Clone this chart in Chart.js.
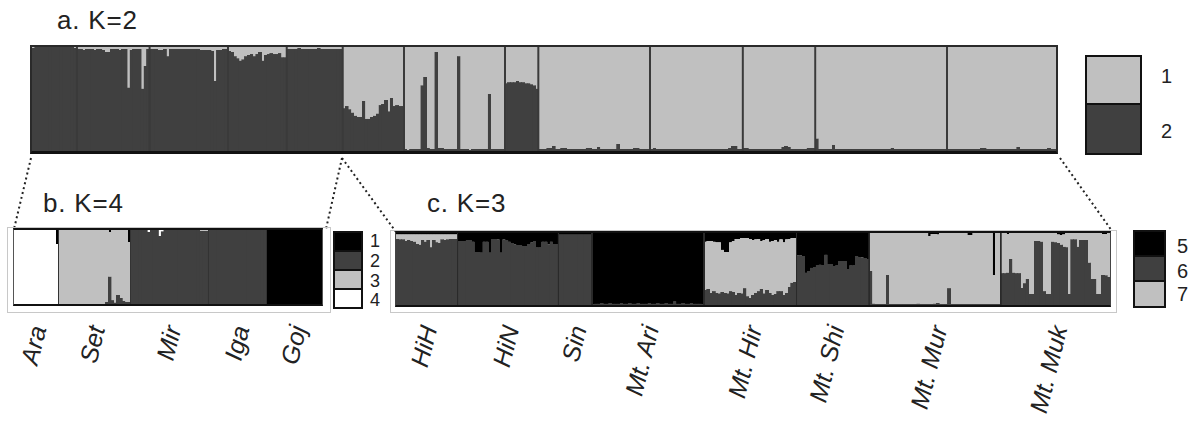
<!DOCTYPE html>
<html>
<head>
<meta charset="utf-8">
<script src="https://cdn.jsdelivr.net/npm/chart.js@4.4.1/dist/chart.umd.min.js"></script>
<style>
body{margin:0;width:1192px;height:423px;background:#fff;position:relative;overflow:hidden;font-family:"Liberation Sans",Arial,sans-serif;color:#222}
.abs{position:absolute}
.title{position:absolute;font-size:26px;line-height:26px;letter-spacing:0.8px;white-space:nowrap}
.num{position:absolute;line-height:1;white-space:nowrap}
canvas{position:absolute}
.frame{position:absolute;border:1px solid #c8c8c8}
.key{position:absolute}
.key div{border:2px solid #111;margin-top:-2px}
.key div:first-child{margin-top:0}
.xl{position:absolute;width:0;height:0}
.xl span{position:absolute;right:0;top:-13px;font-size:25px;line-height:26px;font-style:italic;white-space:nowrap;transform-origin:100% 50%;transform:rotate(-76deg)}
</style>
</head>
<body>

<svg class="abs" style="left:0;top:0" width="1192" height="423">
  <g stroke="#222" stroke-width="2" stroke-dasharray="2,3" fill="none">
    <line x1="31" y1="158" x2="14" y2="229"/>
    <line x1="342" y1="158" x2="326" y2="229"/>
    <line x1="342" y1="158" x2="396" y2="232"/>
    <line x1="1060" y1="158" x2="1112" y2="231"/>
  </g>
</svg>

<div class="title" style="left:57px;top:7px">a. K=2</div>
<div class="title" style="left:43px;top:190px">b. K=4</div>
<div class="title" style="left:427px;top:190px">c. K=3</div>

<canvas id="chartA" width="1028" height="109" style="left:30px;top:45px;border:2px solid #2a2a2a;border-bottom:3px solid #111"></canvas>

<div class="frame" style="left:7px;top:227px;width:322px;height:84px"></div>
<canvas id="chartB" width="310" height="78" style="left:13px;top:228px;border-top:2px solid #111;border-bottom:2px solid #111;border-left:1px solid #555;border-right:1px solid #555"></canvas>

<div class="frame" style="left:390px;top:230px;width:725px;height:81px"></div>
<canvas id="chartC" width="716" height="76" style="left:395px;top:231px;border-top:2px solid #111;border-bottom:2px solid #111;border-left:1px solid #444;border-right:1px solid #444"></canvas>

<!-- keys -->
<div class="key" style="left:1085px;top:55px;width:57px">
  <div style="height:46px;background:#c0c0c0"></div>
  <div style="height:48px;background:#404040"></div>
</div>
<div class="num" style="left:1161px;top:66px;font-size:20px">1</div>
<div class="num" style="left:1161px;top:121px;font-size:20px">2</div>

<div class="key" style="left:333px;top:231px;width:30px">
  <div style="height:17px;background:#000"></div>
  <div style="height:17px;background:#404040"></div>
  <div style="height:17px;background:#c0c0c0"></div>
  <div style="height:17px;background:#fff"></div>
</div>
<div class="num" style="left:370px;top:232px;font-size:18px">1</div>
<div class="num" style="left:370px;top:252px;font-size:18px">2</div>
<div class="num" style="left:370px;top:272px;font-size:18px">3</div>
<div class="num" style="left:370px;top:291px;font-size:18px">4</div>

<div class="key" style="left:1133px;top:230px;width:33px">
  <div style="height:23px;background:#000"></div>
  <div style="height:23px;background:#404040"></div>
  <div style="height:24px;background:#c0c0c0"></div>
</div>
<div class="num" style="left:1177px;top:236px;font-size:20px">5</div>
<div class="num" style="left:1177px;top:261px;font-size:20px">6</div>
<div class="num" style="left:1177px;top:284px;font-size:20px">7</div>

<script>
// populations and sample sizes (individuals per population)
const popsB = ['Ara', 'Set', 'Mir', 'Iga', 'Goj'];
const sizesB = [16, 26, 28, 21, 20];
const popsC = ['HiH', 'HiN', 'Sin', 'Mt. Ari', 'Mt. Hir', 'Mt. Shi', 'Mt. Mur', 'Mt. Muk'];
const sizesC = [22, 36, 12, 40, 33, 26, 47, 39];

// a. K=2, membership (%) in cluster 2 (dark)
const k2c2 = [
  99,100,100,100,100,100,100,100,100,100,100,100,100,100,100,99, // Ara
  98,98,97,98,98,98,97,98,98,97,95,95,98,98,98,97,98,98,61,97,98,98,98,60,82,98, // Set
  98,98,98,97,97,98,91,98,98,98,98,98,98,98,98,98,98,98,97,97,97,97,96,67,97,97,98,98, // Mir
  96,95,91,89,87,88,91,92,93,91,93,95,87,92,93,94,93,93,94,90,90, // Iga
  98,98,98,98,99,98,98,98,98,98,98,99,98,98,98,98,98,98,98,98, // Goj
  41,43,40,37,34,33,33,48,31,31,33,34,36,44,45,49,38,51,43,44,43,43, // HiH
  2,1,2,2,2,2,63,71,3,2,2,95,3,3,2,2,2,2,2,91,2,2,2,1,2,2,2,2,2,2,55,2,2,2,2,2, // HiN
  65,66,66,66,67,66,66,65,65,64,63,60, // Sin
  2,2,2,3,3,5,2,2,3,3,2,2,2,2,2,2,2,3,3,2,2,4,2,2,2,2,2,2,7,2,2,2,2,2,3,3,2,2,2,2, // Mt. Ari
  2,3,2,2,2,2,2,2,2,2,2,2,2,2,2,2,2,2,2,2,2,2,2,2,2,2,2,2,3,5,5,2,2, // Mt. Hir
  3,3,2,2,2,2,2,2,2,2,2,2,2,2,4,5,4,2,2,2,2,2,2,3,3,3, // Mt. Shi
  12,2,2,2,2,2,6,2,2,2,2,2,2,2,2,2,2,2,2,2,2,2,2,2,2,2,2,3,2,2,2,2,2,2,2,2,2,2,2,2,2,2,2,2,2,2,2, // Mt. Mur
  2,2,2,2,2,2,2,2,2,2,2,2,3,3,2,2,2,2,2,2,2,2,2,2,2,4,2,2,2,2,2,2,2,2,2,2,3,2,2 // Mt. Muk
];
// K=2 memberships sum to 100, cluster 1 is the rest
const k2c1 = k2c2.map(v => 100 - v);

// b. K=4 memberships (%)
const k4c1 = [
  0,0,0,0,0,0,0,0,0,0,0,0,0,0,0,19,
  0,0,0,0,0,0,0,0,0,0,0,0,0,0,0,0,0,0,3,0,0,0,0,0,0,16,
  0,0,0,0,0,0,0,0,0,0,0,0,0,0,0,0,0,0,0,0,0,0,0,0,0,0,0,0,
  0,0,0,0,0,0,0,0,0,0,0,0,0,0,0,0,0,0,0,0,0,
  100,100,100,100,100,100,100,100,100,100,100,100,100,100,100,100,100,100,100,100
];
const k4c2 = [
  0,0,0,0,0,0,0,0,0,0,0,0,0,0,0,0,
  0,0,0,0,0,0,0,0,0,0,0,0,0,0,0,0,0,3,37,5,2,12,8,4,3,3,
  100,100,100,100,100,100,97,100,100,100,92,98,100,100,100,100,100,100,100,100,100,100,100,100,100,99,99,99,
  100,100,100,100,100,100,100,100,100,100,100,100,100,100,100,100,100,100,100,100,100,
  0,0,0,0,0,0,0,0,0,0,0,0,0,0,0,0,0,0,0,0
];
const k4c3 = [
  0,0,0,0,0,0,0,0,0,0,0,0,0,0,0,0,
  100,100,100,100,100,100,100,100,100,100,100,100,100,100,100,100,100,97,60,95,98,88,92,96,97,81,
  0,0,0,0,0,0,0,0,0,0,0,0,0,0,0,0,0,0,0,0,0,0,0,0,0,1,1,1,
  0,0,0,0,0,0,0,0,0,0,0,0,0,0,0,0,0,0,0,0,0,
  0,0,0,0,0,0,0,0,0,0,0,0,0,0,0,0,0,0,0,0
];
const k4c4 = [
  100,100,100,100,100,100,100,100,100,100,100,100,100,100,100,81,
  0,0,0,0,0,0,0,0,0,0,0,0,0,0,0,0,0,0,0,0,0,0,0,0,0,0,
  0,0,0,0,0,0,3,0,0,0,8,2,0,0,0,0,0,0,0,0,0,0,0,0,0,0,0,0,
  0,0,0,0,0,0,0,0,0,0,0,0,0,0,0,0,0,0,0,0,0,
  0,0,0,0,0,0,0,0,0,0,0,0,0,0,0,0,0,0,0,0
];

// c. K=3 memberships (%)
const k3c5 = [
  2,2,2,2,2,2,2,2,2,2,2,2,2,2,2,2,2,2,2,2,2,2,
  11,11,11,10,10,12,26,26,27,12,12,27,8,8,9,27,9,10,12,14,16,17,17,18,18,15,13,11,20,20,12,12,16,12,15,15,
  2,2,2,2,2,2,2,2,2,2,2,2,
  99,98,98,97,98,98,97,98,98,98,97,98,98,97,98,98,97,98,98,98,97,98,98,97,98,98,97,98,98,95,98,98,97,98,98,97,98,98,98,99,
  12,11,11,12,13,13,23,26,26,13,11,8,8,7,7,7,8,10,9,8,11,10,8,12,11,10,12,9,13,9,8,7,7,
  31,31,32,55,53,48,47,45,44,45,30,43,43,46,45,39,39,39,50,45,45,32,33,34,35,36,
  0,0,0,0,0,0,0,0,0,0,0,0,0,0,0,0,0,0,0,0,0,4,1,1,2,0,0,0,0,0,0,0,0,0,0,3,3,0,0,0,0,0,0,0,58,0,0,
  0,0,1,0,0,0,0,0,0,0,0,0,0,0,0,0,0,0,0,0,2,3,2,0,0,0,0,0,0,0,0,0,0,0,0,0,1,1,0
];
const k3c6 = [
  92,91,91,89,90,89,88,85,84,90,88,90,80,90,87,86,91,90,91,92,92,92,
  89,89,89,90,90,88,74,74,73,88,88,73,92,92,91,73,91,90,88,86,84,83,83,82,82,85,87,89,80,80,88,88,84,88,85,85,
  98,98,98,98,98,98,98,98,98,98,98,98,
  1,2,2,3,2,2,3,2,2,2,3,2,2,3,2,2,3,2,2,2,3,2,2,3,2,2,3,2,2,5,2,2,3,2,2,3,2,2,2,1,
  21,22,17,19,17,16,18,17,16,19,18,14,17,16,23,12,10,14,17,19,22,16,21,17,14,15,19,19,14,17,25,31,32,
  69,69,68,45,47,52,53,55,56,55,70,57,57,54,55,61,61,61,50,55,55,68,67,66,65,64,
  47,2,1,1,1,1,42,1,1,1,1,1,1,1,1,1,1,2,1,1,1,1,1,2,3,1,1,1,23,1,1,1,1,1,1,1,1,1,1,1,1,1,1,1,1,1,1,
  44,44,45,64,45,44,44,24,30,36,15,15,89,89,88,19,15,15,88,87,86,84,81,80,15,91,91,81,90,90,90,59,36,36,15,15,42,41,39
];
const k3c7 = [
  6,7,7,9,8,9,10,13,14,8,10,8,18,8,11,12,7,8,7,6,6,6,
  0,0,0,0,0,0,0,0,0,0,0,0,0,0,0,0,0,0,0,0,0,0,0,0,0,0,0,0,0,0,0,0,0,0,0,0,
  0,0,0,0,0,0,0,0,0,0,0,0,
  0,0,0,0,0,0,0,0,0,0,0,0,0,0,0,0,0,0,0,0,0,0,0,0,0,0,0,0,0,0,0,0,0,0,0,0,0,0,0,0,
  67,67,72,69,70,71,59,57,58,68,71,78,75,77,70,81,82,76,74,73,67,74,71,71,75,75,69,72,73,74,67,62,61,
  0,0,0,0,0,0,0,0,0,0,0,0,0,0,0,0,0,0,0,0,0,0,0,0,0,0,
  53,98,99,99,99,99,58,99,99,99,99,99,99,99,99,99,99,98,99,99,99,95,98,97,95,99,99,99,77,99,99,99,99,99,99,96,96,99,99,99,99,99,99,99,41,99,99,
  56,56,54,36,55,56,56,76,70,64,85,85,11,11,12,81,85,85,12,13,12,13,17,20,85,9,9,19,10,10,10,41,64,64,85,85,57,58,61
];

const BLACK = '#000000', DARK = '#404040', LIGHT = '#c0c0c0', WHITE = '#ffffff';

// vertical lines between populations
const popLines = {
  id: 'popLines',
  afterDatasetsDraw(chart, args, opts) {
    const x = chart.scales.x, area = chart.chartArea, ctx = chart.ctx;
    ctx.save();
    ctx.strokeStyle = opts.color;
    ctx.lineWidth = opts.width;
    let n = 0;
    opts.sizes.slice(0, -1).forEach(s => {
      n += s;
      const px = (x.getPixelForValue(n - 1) + x.getPixelForValue(n)) / 2;
      ctx.beginPath();
      ctx.moveTo(px, area.top);
      ctx.lineTo(px, area.bottom);
      ctx.stroke();
    });
    ctx.restore();
  }
};

function individuals(pops, sizes) {
  return pops.flatMap((p, i) => Array.from({length: sizes[i]}, (_, j) => p + ' ' + (j + 1)));
}

function structurePlot(id, pops, sizes, series, lineColor, lineWidth) {
  return new Chart(id, {
    type: 'bar',
    data: {
      labels: individuals(pops, sizes),
      datasets: series.map(s => ({
        data: s.data,
        backgroundColor: s.color,
        borderWidth: 0,
        // slightly wider than the slot so neighbouring bars leave no seams
        barPercentage: 1.25,
        categoryPercentage: 1
      }))
    },
    options: {
      responsive: false,
      animation: false,
      // draw at a finer grid, the page scales it back down
      devicePixelRatio: 4,
      events: [],
      layout: {padding: 0},
      plugins: {
        legend: {display: false},
        tooltip: {enabled: false},
        popLines: {sizes: sizes, color: lineColor, width: lineWidth}
      },
      scales: {
        x: {stacked: true, display: false},
        y: {stacked: true, display: false, min: 0, max: 100}
      }
    },
    plugins: [popLines]
  });
}

function popNames(chart, pops, sizes) {
  const cv = chart.canvas;
  const left = cv.offsetLeft + cv.clientLeft;
  let start = 0;
  pops.forEach((p, i) => {
    const mid = start + (sizes[i] - 1) / 2;
    start += sizes[i];
    const x = left + chart.scales.x.getPixelForValue(mid) + 2;
    const el = document.createElement('div');
    el.className = 'xl';
    el.style.left = x + 'px';
    el.style.top = '326px';
    const sp = document.createElement('span');
    sp.textContent = p;
    el.appendChild(sp);
    document.body.appendChild(el);
  });
}

const chartA = structurePlot('chartA', popsB.concat(popsC), sizesB.concat(sizesC), [
  {data: k2c2, color: DARK},
  {data: k2c1, color: LIGHT}
], '#3a3a3a', 2);

const chartB = structurePlot('chartB', popsB, sizesB, [
  {data: k4c2, color: DARK},
  {data: k4c3, color: LIGHT},
  {data: k4c4, color: WHITE},
  {data: k4c1, color: BLACK}
], '#333333', 1);

const chartC = structurePlot('chartC', popsC, sizesC, [
  {data: k3c6, color: DARK},
  {data: k3c7, color: LIGHT},
  {data: k3c5, color: BLACK}
], '#2a2a2a', 1.5);

popNames(chartB, popsB, sizesB);
popNames(chartC, popsC, sizesC);
</script>
</body>
</html>
